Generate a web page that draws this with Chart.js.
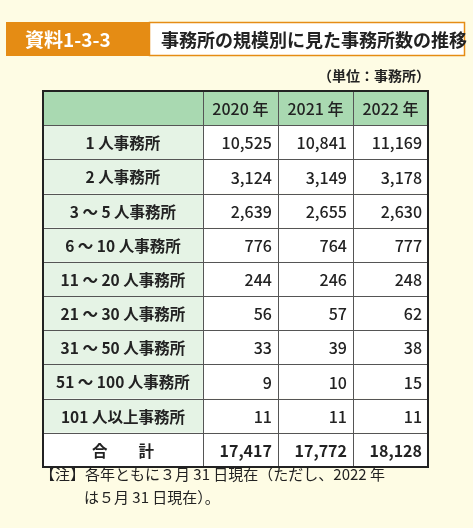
<!DOCTYPE html>
<html><head><meta charset="utf-8">
<script src="https://cdn.jsdelivr.net/npm/chart.js@4/dist/chart.umd.min.js"></script>
<style>html,body{margin:0;padding:0;background:#fefce4}canvas{display:block}</style>
</head><body>
<div style="width:473px;height:528px"><canvas id="c"></canvas></div>
<script>
const years = ['2020 年','2021 年','2022 年'];
const categories = ['1 人事務所','2 人事務所','3 ～ 5 人事務所','6 ～ 10 人事務所','11 ～ 20 人事務所','21 ～ 30 人事務所','31 ～ 50 人事務所','51 ～ 100 人事務所','101 人以上事務所'];
const v2020 = [10525,3124,2639,776,244,56,33,9,11];
const v2021 = [10841,3149,2655,764,246,57,39,10,11];
const v2022 = [11169,3178,2630,777,248,62,38,15,11];
const totals = [17417,17772,18128];
const totalLabel = '合　　計';
const rowKeys = ['h',...categories,'t'];
const FONT = '"Noto Sans CJK JP","Noto Sans",sans-serif';
const fmt = n => n.toLocaleString('en-US');

const tablePlugin = {
  id:'table',
  beforeDraw(chart){
    const c = chart.ctx, a = chart.chartArea, ys = chart.scales.y, xs = chart.scales.x;
    c.save();
    c.fillStyle='#fefce4'; c.fillRect(0,0,chart.width,chart.height);
    c.fillStyle='#e58c14'; c.fillRect(6,22,143,34);
    c.fillStyle='#fff'; c.fillRect(149,22,316,34);
    c.strokeStyle='#e58c14'; c.lineWidth=1.5; c.strokeRect(149.5,22.5,315,33);
    c.textBaseline='middle';
    c.font='bold 19px '+FONT; c.fillStyle='#fff'; c.textAlign='left';
    c.fillText('資料1-3-3',25,40);
    c.font='bold 18px '+FONT; c.fillStyle='#222';
    c.fillText('事務所の規模別に見た事務所数の推移',161,40);
    c.font='bold 14px '+FONT; c.textAlign='right';
    c.fillText('（単位：事務所）',430,76);
    const band = (i)=>{const p=ys.getPixelForValue(i);const h=(ys.getPixelForValue(1)-ys.getPixelForValue(0));return [p-h/2,h];};
    const colX = [xs.getPixelForValue(0),xs.getPixelForValue(2.13),xs.getPixelForValue(3.13),xs.getPixelForValue(4.13),xs.getPixelForValue(5.13)];
    rowKeys.forEach((k,i)=>{
      const [top,h]=band(i);
      c.fillStyle = k==='h' ? '#a9d9b1' : '#ffffff';
      c.fillRect(colX[0],top,colX[4]-colX[0],h);
      if(k!=='h' && k!=='t'){c.fillStyle='#e5f3e5';c.fillRect(colX[0],top,colX[1]-colX[0],h);}
      c.fillStyle='#222'; c.font='500 16px '+FONT;
      const cy=top+h/2+1;
      if(k==='h'){ c.textAlign='center'; years.forEach((y,j)=>c.fillText(y,(colX[j+1]+colX[j+2])/2,cy)); }
      else if(k==='t'){
        c.textAlign='center'; c.font='bold 15.5px '+FONT; c.fillText(totalLabel,(colX[0]+colX[1])/2,cy);
        c.textAlign='right'; c.font='bold 16px '+FONT; totals.forEach((v,j)=>c.fillText(fmt(v),colX[j+2]-6,cy));
      } else {
        const r=i-1; c.textAlign='center'; c.font='bold 15.5px '+FONT; c.fillText(k,(colX[0]+colX[1])/2,cy);
        c.textAlign='right'; c.font='500 16px '+FONT;
        [v2020[r],v2021[r],v2022[r]].forEach((v,j)=>c.fillText(fmt(v),colX[j+2]-6,cy));
      }
      if(i>0){c.strokeStyle='#555';c.lineWidth=1;c.beginPath();c.moveTo(colX[0],Math.round(top)+.5);c.lineTo(colX[4],Math.round(top)+.5);c.stroke();}
    });
    c.strokeStyle='#555'; c.lineWidth=1;
    for(let j=1;j<4;j++){c.beginPath();c.moveTo(Math.round(colX[j])+.5,a.top);c.lineTo(Math.round(colX[j])+.5,a.bottom);c.stroke();}
    c.strokeStyle='#222'; c.lineWidth=2; c.strokeRect(a.left,a.top,a.right-a.left,a.bottom-a.top);
    c.fillStyle='#222'; c.font='15px '+FONT; c.textAlign='left';
    c.fillText('【注】各年ともに３月 31 日現在（ただし、2022 年',40,474);
    c.fillText('は５月 31 日現在）。',84,497);
    c.restore();
  }
};
new Chart(document.getElementById('c'),{
  type:'bar',
  data:{labels:rowKeys,datasets:[{data:[],backgroundColor:'transparent'}]},
  options:{responsive:true,maintainAspectRatio:false,animation:false,
    layout:{padding:{left:43,right:45,top:91,bottom:61}},
    plugins:{legend:{display:false},tooltip:{enabled:false}},
    scales:{x:{type:'linear',min:0,max:5.13,display:false,offset:false,grace:0},
            y:{type:'category',labels:rowKeys,offset:true,display:false}}},
  plugins:[tablePlugin]
});
</script></body></html>
